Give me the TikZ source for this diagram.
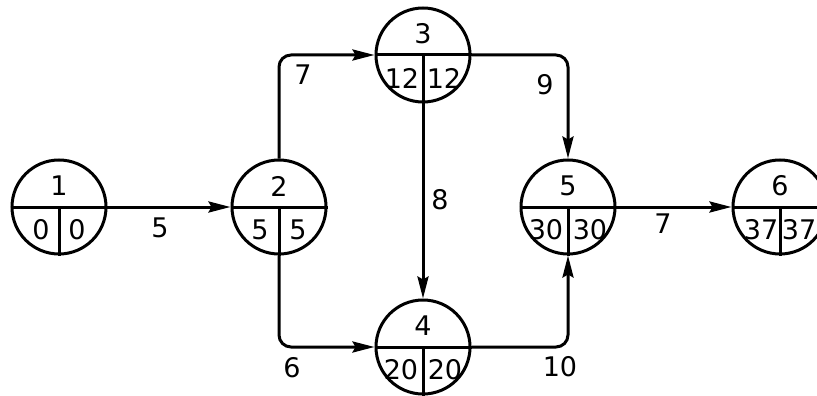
\documentclass[tikz,border=0pt]{standalone}
\usepackage{fontspec}
\setmainfont{DejaVu Sans}
\usetikzlibrary{arrows.meta}
\newcommand\evnode[6]{%
  \node[evcircle] (#1) at (#2) {};
  \draw[evline] (#1.west) -- (#1.east);
  \draw[evline] (#1.center) -- (#1.south);
  \node[evtext] (#1num) at ([yshift=21pt]#1.center) {#3};
  \node[evtext] (#1es) at ([xshift=-#6,yshift=-23pt]#1.center) {#4};
  \node[evtext] (#1ls) at ([xshift=#6,yshift=-23pt]#1.center) {#5};
}
\tikzset{
  evcircle/.style={circle, draw, line width=3pt, minimum size=94pt, inner sep=0pt},
  evline/.style={line width=3pt},
  evtext/.style={font=\fontsize{27}{29}\selectfont, inner sep=0pt},
  arr/.style={line width=3pt, -{Stealth[length=22pt,width=11pt,inset=3pt]}, rounded corners=12pt},
  lbl/.style={font=\fontsize{27}{29}\selectfont, inner sep=0pt}
}
\begin{document}
\begin{tikzpicture}[x=1pt,y=-1pt]
\useasboundingbox (0,0) rectangle (817,396);
\evnode{n1}{59,207}{1}{0}{0}{18pt}
\evnode{n2}{279,207}{2}{5}{5}{19pt}
\evnode{n3}{423,55}{3}{12}{12}{21pt}
\evnode{n4}{423,347}{4}{20}{20}{22pt}
\evnode{n5}{568,207}{5}{30}{30}{22pt}
\evnode{n6}{780,207}{6}{37}{37}{19pt}
\draw[arr] (n1.east) -- (n2.west);
\draw[arr] (n2.north) |- (n3.west);
\draw[arr] (n2.south) |- (n4.west);
\draw[arr] (n3.south) -- (n4.north);
\draw[arr] (n3.east) -| (n5.north);
\draw[arr] (n4.east) -| (n5.south);
\draw[arr] (n5.east) -- (n6.west);
\node[lbl] (l12) at (160,228) {5};
\node[lbl] (l23) at (303,75) {7};
\node[lbl] (l24) at (292,368) {6};
\node[lbl] (l34) at (440,200) {8};
\node[lbl] (l35) at (545,85) {9};
\node[lbl] (l45) at (560,367) {10};
\node[lbl] (l56) at (663,224) {7};
\end{tikzpicture}
\end{document}
